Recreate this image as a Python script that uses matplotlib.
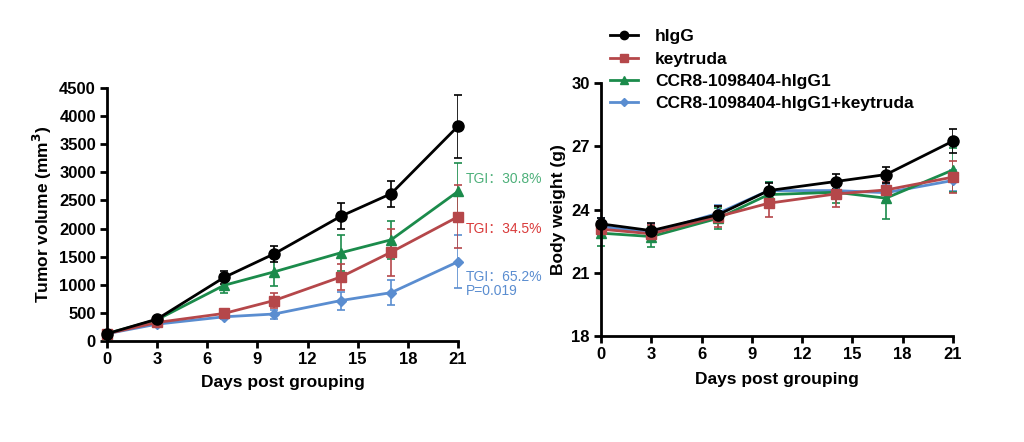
import matplotlib
matplotlib.use("Agg")
import matplotlib.pyplot as plt
from matplotlib.lines import Line2D

plt.rcParams['font.family'] = ['Liberation Sans', 'Noto Sans CJK SC', 'DejaVu Sans']

days = [0, 3, 7, 10, 14, 17, 21]
groups = ["hIgG", "keytruda", "CCR8-1098404-hIgG1", "CCR8-1098404-hIgG1+keytruda"]
colors = ["#000000", "#B5474A", "#1B8B4B", "#5A8DD0"]
markers = ["o", "s", "^", "D"]
msizes = [8, 7, 7, 5]

tv_mean = [
    [130, 390, 1130, 1550, 2220, 2620, 3820],
    [130, 330, 490, 720, 1140, 1580, 2210],
    [130, 380, 990, 1230, 1570, 1800, 2660],
    [130, 300, 430, 480, 720, 860, 1410],
]
tv_err = [
    [20, 40, 120, 140, 230, 230, 560],
    [20, 30, 40, 130, 230, 420, 560],
    [20, 30, 140, 250, 320, 340, 500],
    [20, 30, 30, 80, 160, 220, 470],
]

bw_mean = [
    [23.32, 23.00, 23.76, 24.90, 25.33, 25.66, 27.25],
    [23.07, 22.85, 23.67, 24.30, 24.74, 24.93, 25.54],
    [22.88, 22.72, 23.59, 24.71, 24.82, 24.54, 25.88],
    [23.20, 22.90, 23.83, 24.90, 24.90, 24.80, 25.38],
]
bw_err = [
    [0.30, 0.38, 0.40, 0.35, 0.37, 0.38, 0.57],
    [0.40, 0.40, 0.50, 0.63, 0.60, 0.40, 0.74],
    [0.60, 0.50, 0.50, 0.60, 0.50, 1.00, 1.05],
    [0.40, 0.40, 0.40, 0.40, 0.40, 0.40, 0.50],
]

tgi_labels = ["TGI：30.8%", "TGI：34.5%", "TGI：65.2%\nP=0.019"]
tgi_y = [2880, 2000, 1010]
tgi_colors = ["#4DB07A", "#D93A3A", "#5A8DD0"]

fig = plt.figure(figsize=(10.24, 4.42), dpi=100)
ax1 = fig.add_axes([107/1024, 0.2285, (458-107)/1024, 0.801-0.2285])
ax2 = fig.add_axes([601/1024, 0.2398, (953-601)/1024, 0.812-0.2398])

def style(ax):
    for s in ['top', 'right']:
        ax.spines[s].set_visible(False)
    for s in ['left', 'bottom']:
        ax.spines[s].set_linewidth(2)
    ax.tick_params(width=2, length=5, labelsize=12, pad=3)
    for lbl in ax.get_xticklabels() + ax.get_yticklabels():
        lbl.set_fontweight('bold')

order = [3, 2, 1, 0]
for i in order:
    ax1.errorbar(days, tv_mean[i], yerr=tv_err[i], color=colors[i], marker=markers[i],
                 ms=msizes[i], lw=2, elinewidth=1.2, capsize=3, capthick=1.2)
    ax2.errorbar(days, bw_mean[i], yerr=bw_err[i], color=colors[i], marker=markers[i],
                 ms=msizes[i], lw=2, elinewidth=1.2, capsize=3, capthick=1.2)

ax1.set_xlim(0, 21)
ax1.set_ylim(0, 4500)
ax1.set_xticks([0, 3, 6, 9, 12, 15, 18, 21])
ax1.set_yticks(range(0, 4501, 500))
ax1.set_xlabel("Days post grouping", fontsize=12.5, fontweight='bold', labelpad=6)
ax1.set_ylabel("Tumor volume (mm$^\\mathbf{3}$)", fontsize=12.5, fontweight='bold')
for t, y, c in zip(tgi_labels, tgi_y, tgi_colors):
    ax1.text(21.45, y, t, color=c, fontsize=10, va='center', ha='left',
             clip_on=False, linespacing=1.0)
style(ax1)

ax2.set_xlim(0, 21)
ax2.set_ylim(18, 30)
ax2.set_xticks([0, 3, 6, 9, 12, 15, 18, 21])
ax2.set_yticks([18, 21, 24, 27, 30])
ax2.set_xlabel("Days post grouping", fontsize=12.5, fontweight='bold', labelpad=7)
ax2.set_ylabel("Body weight (g)", fontsize=12.5, fontweight='bold')
style(ax2)

handles = [Line2D([], [], color=colors[i], marker=markers[i], ms=msizes[i] * 0.75, lw=2)
           for i in range(4)]
fig.legend(handles, groups,
           loc='upper left', bbox_to_anchor=(610/1024, 1 - 29/442),
           frameon=False, prop={'weight': 'bold', 'size': 12.5},
           handlelength=1.6, labelspacing=0.42, borderaxespad=0, handletextpad=1.0,
           borderpad=0)
for line in ax1.lines + ax2.lines:
    line.set_clip_on(False)
fig.savefig("out.png", dpi=100)
